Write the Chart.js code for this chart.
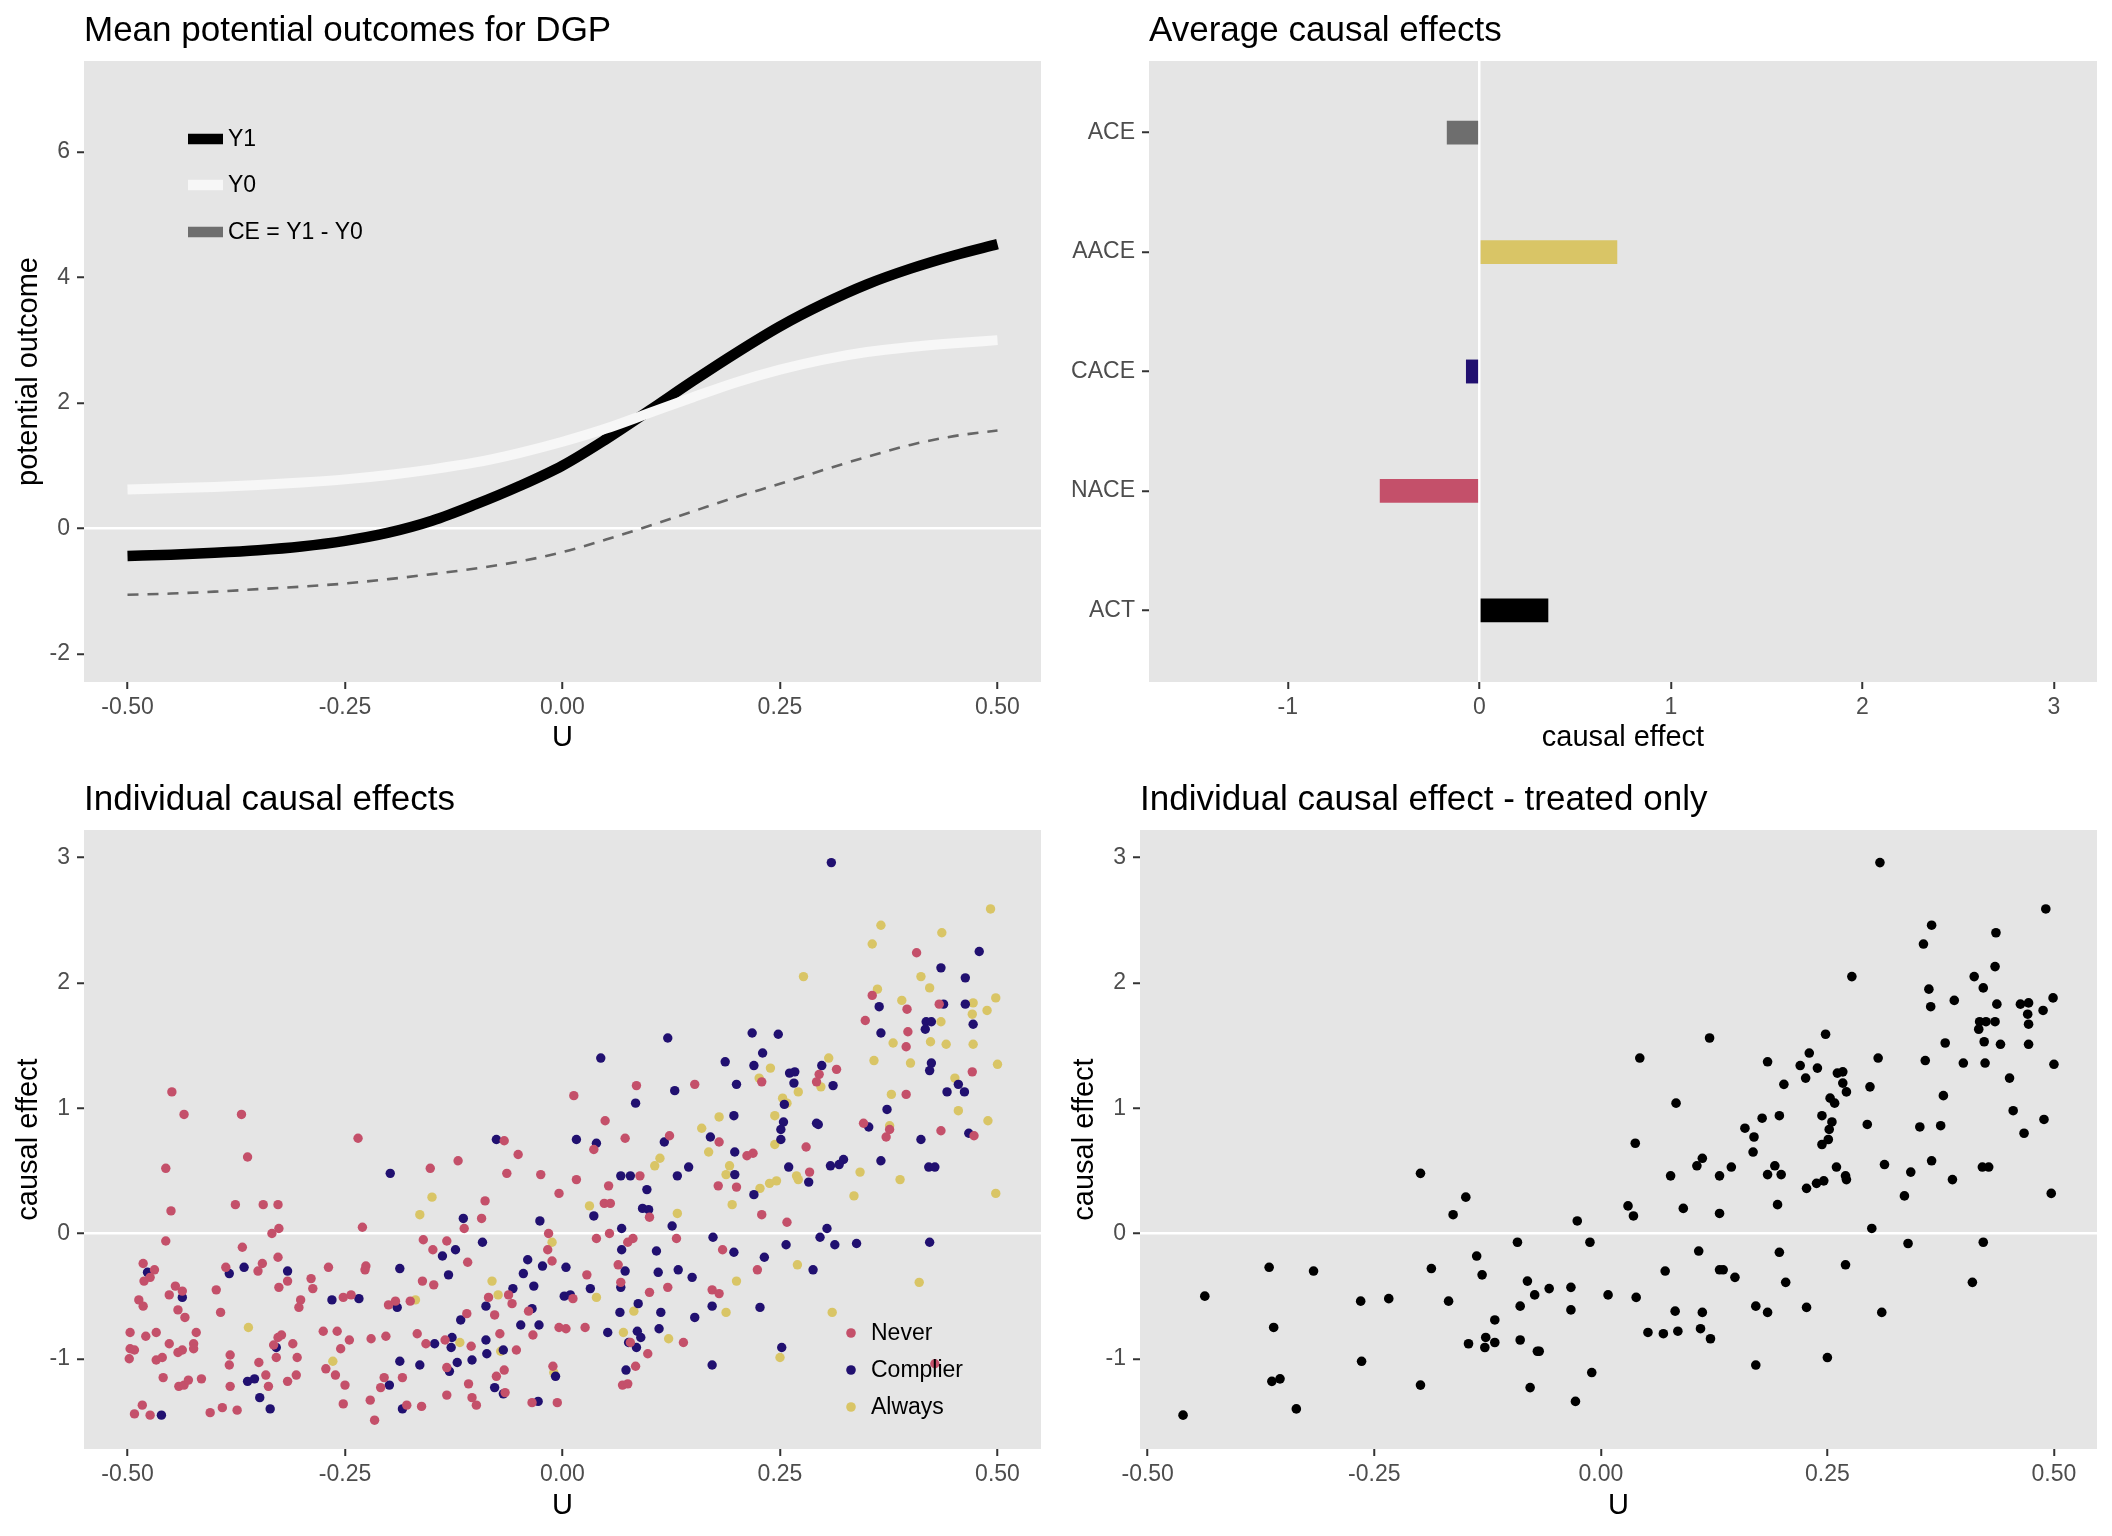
<!DOCTYPE html>
<html>
<head>
<meta charset="utf-8">
<script src="https://cdn.jsdelivr.net/npm/chart.js@4.4.1/dist/chart.umd.min.js"></script>
<style>
  html, body { margin: 0; padding: 0; background: #ffffff; }
  #page { position: relative; width: 2112px; height: 1536px; background: #ffffff; }
  .cell { position: absolute; width: 1056px; height: 768px; }
</style>
</head>
<body>
<div id="page">
  <div class="cell" style="left:0;top:0"><canvas id="dgp" width="1056" height="768"></canvas></div>
  <div class="cell" style="left:1056px;top:0"><canvas id="ace" width="1056" height="768"></canvas></div>
  <div class="cell" style="left:0;top:768px"><canvas id="ice" width="1056" height="768"></canvas></div>
  <div class="cell" style="left:1056px;top:768px"><canvas id="treated" width="1056" height="768"></canvas></div>
</div>
<script>
// ---- data ----
const uGrid = [-0.5, -0.45, -0.4, -0.35, -0.3, -0.25, -0.2, -0.15, -0.1, -0.05, 0, 0.05, 0.1, 0.15, 0.2, 0.25, 0.3, 0.35, 0.4, 0.45, 0.5];
const y1Mean = [-0.44, -0.42, -0.39, -0.35, -0.29, -0.20, -0.07, 0.12, 0.38, 0.67, 1.00, 1.42, 1.88, 2.35, 2.80, 3.22, 3.58, 3.89, 4.14, 4.35, 4.53];
const y0Mean = [0.62, 0.64, 0.66, 0.69, 0.73, 0.78, 0.85, 0.94, 1.05, 1.20, 1.38, 1.59, 1.84, 2.09, 2.33, 2.53, 2.69, 2.81, 2.89, 2.95, 3.00];
const ceMean = [-1.06, -1.04, -1.01, -0.97, -0.93, -0.88, -0.81, -0.73, -0.64, -0.53, -0.38, -0.18, 0.04, 0.27, 0.50, 0.71, 0.93, 1.14, 1.33, 1.47, 1.56];
const dgpLegend = ['Y1', 'Y0', 'CE = Y1 - Y0'];

const effectNames = ['ACE', 'AACE', 'CACE', 'NACE', 'ACT'];
const effectValues = [-0.17, 0.72, -0.07, -0.52, 0.36];

const typeNames = ['Never', 'Complier', 'Always'];
const neverPts = [
  [-0.449,1.13],[-0.435,0.95],[-0.369,0.95],[-0.362,0.61],[-0.456,0.52],[-0.235,0.76],[-0.45,0.18],[-0.376,0.23],[-0.344,0.23],[-0.327,0.23],
  [-0.23,0.05],[-0.326,0.04],[-0.334,0.0],[-0.456,-0.06],[-0.368,-0.11],[-0.327,-0.19],[-0.482,-0.24],[-0.469,-0.29],[-0.474,-0.35],[-0.481,-0.38],
  [-0.387,-0.27],[-0.35,-0.30],[-0.345,-0.24],[-0.316,-0.38],[-0.326,-0.43],[-0.289,-0.36],[-0.287,-0.44],[-0.269,-0.27],[-0.226,-0.26],[-0.227,-0.29],
  [-0.445,-0.42],[-0.437,-0.46],[-0.452,-0.49],[-0.398,-0.45],[-0.487,-0.53],[-0.482,-0.58],[-0.442,-0.61],[-0.434,-0.67],[-0.393,-0.63],[-0.301,-0.53],
  [-0.303,-0.59],[-0.252,-0.51],[-0.243,-0.49],[-0.2,-0.57],[-0.192,-0.54],[-0.175,-0.54],[-0.497,-0.79],[-0.479,-0.82],[-0.467,-0.79],[-0.421,-0.79],
  [-0.452,-0.88],[-0.424,-0.88],[-0.424,-0.92],[-0.442,-0.95],[-0.437,-0.93],[-0.497,-0.92],[-0.492,-0.93],[-0.498,-1.0],[-0.467,-1.01],[-0.46,-0.99],
  [-0.327,-0.83],[-0.323,-0.81],[-0.332,-0.89],[-0.31,-0.88],[-0.329,-0.99],[-0.305,-0.99],[-0.382,-0.97],[-0.383,-1.05],[-0.349,-1.03],[-0.275,-0.78],
  [-0.259,-0.78],[-0.245,-0.85],[-0.255,-0.92],[-0.22,-0.84],[-0.203,-0.82],[-0.272,-1.08],[-0.261,-1.13],[-0.25,-1.21],[-0.459,-1.15],[-0.441,-1.22],
  [-0.435,-1.21],[-0.43,-1.17],[-0.415,-1.16],[-0.382,-1.22],[-0.341,-1.13],[-0.338,-1.22],[-0.316,-1.18],[-0.306,-1.13],[-0.205,-1.15],[-0.209,-1.23],
  [-0.184,-1.15],[-0.483,-1.37],[-0.492,-1.44],[-0.474,-1.45],[-0.405,-1.43],[-0.391,-1.39],[-0.374,-1.41],[-0.252,-1.36],[-0.221,-1.33],[-0.216,-1.49],
  [-0.179,-1.37],
  [0.085,1.18],[0.152,1.19],[0.013,1.10],[0.049,0.90],[0.072,0.76],[-0.067,0.74],[-0.051,0.63],[0.036,0.67],[0.123,0.78],[0.18,0.73],
  [-0.12,0.58],[-0.152,0.52],[-0.064,0.48],[-0.025,0.47],[0.016,0.43],[0.089,0.46],[0.053,0.38],[0.179,0.38],[0.2,0.37],[-0.004,0.32],
  [-0.089,0.26],[0.048,0.24],[0.055,0.24],[-0.093,0.12],[-0.113,0.04],[0.1,0.13],[-0.016,0.0],[0.054,0.0],[0.131,-0.04],[-0.16,-0.05],
  [-0.133,-0.06],[0.039,-0.04],[0.075,-0.07],[0.081,-0.04],[0.184,-0.13],[-0.149,-0.13],[-0.017,-0.13],[-0.109,-0.23],[-0.012,-0.22],[0.064,-0.25],
  [0.028,-0.33],[-0.161,-0.38],[-0.148,-0.41],[0.067,-0.39],[0.121,-0.43],[0.1,-0.47],[0.172,-0.45],[0.18,-0.48],[-0.085,-0.51],[-0.062,-0.49],
  [-0.058,-0.56],[0.012,-0.52],[-0.11,-0.64],[-0.078,-0.65],[-0.039,-0.62],[-0.167,-0.80],[-0.157,-0.88],[-0.135,-0.85],[-0.105,-0.90],[-0.072,-0.80],
  [-0.053,-0.93],[-0.034,-0.81],[-0.004,-0.75],[0.004,-0.76],[0.026,-0.75],[0.078,-0.87],[0.098,-0.96],[0.139,-0.87],[-0.133,-1.07],[-0.067,-1.09],
  [-0.076,-1.14],[-0.011,-1.06],[0.084,-1.06],[-0.108,-1.20],[0.069,-1.21],[0.075,-1.20],[-0.133,-1.29],[-0.104,-1.31],[-0.099,-1.37],[-0.066,-1.27],
  [-0.035,-1.35],[-0.006,-1.35],[-0.162,-1.38],
  [0.407,2.24],[0.356,1.90],[0.348,1.70],[0.396,1.79],[0.433,1.83],[0.397,1.61],[0.395,1.49],[0.315,1.31],[0.295,1.27],[0.292,1.21],
  [0.229,1.21],[0.471,1.29],[0.395,1.11],[0.346,0.88],[0.376,0.83],[0.372,0.77],[0.435,0.82],[0.473,0.78],[0.28,0.69],[0.212,0.62],
  [0.219,0.64],[0.284,0.49],[0.229,0.15],[0.258,0.09],[0.224,-0.29],[0.428,-1.04]
];
const complierPts = [
  [-0.198,0.48],[-0.477,-0.31],[-0.437,-0.51],[-0.383,-0.32],[-0.366,-0.27],[-0.316,-0.30],[-0.265,-0.53],[-0.234,-0.52],[-0.187,-0.28],[-0.19,-0.59],
  [-0.329,-0.91],[-0.362,-1.18],[-0.354,-1.16],[-0.348,-1.31],[-0.336,-1.40],[-0.461,-1.45],[-0.187,-1.02],[-0.199,-1.21],[-0.184,-1.40],
  [0.121,1.56],[0.044,1.40],[0.187,1.37],[0.2,1.19],[0.129,1.14],[0.084,1.04],[0.197,0.94],[0.016,0.75],[-0.076,0.75],[0.039,0.72],
  [0.117,0.73],[0.17,0.77],[0.198,0.65],[0.067,0.46],[0.078,0.46],[0.132,0.46],[0.145,0.53],[0.198,0.47],[0.097,0.35],[0.092,0.20],
  [0.099,0.19],[0.036,0.14],[-0.114,0.12],[-0.026,0.10],[0.126,0.06],[0.068,0.04],[0.173,-0.03],[-0.092,-0.07],[-0.123,-0.13],[-0.138,-0.18],
  [0.068,-0.13],[0.108,-0.14],[0.197,-0.15],[-0.04,-0.21],[-0.023,-0.26],[0.004,-0.27],[-0.045,-0.32],[0.072,-0.30],[0.11,-0.31],[0.133,-0.29],
  [0.149,-0.35],[-0.131,-0.33],[-0.057,-0.44],[-0.033,-0.42],[0.032,-0.44],[0.002,-0.50],[0.009,-0.49],[0.067,-0.43],[-0.088,-0.58],[-0.035,-0.60],
  [0.087,-0.56],[0.066,-0.63],[0.113,-0.63],[0.172,-0.58],[-0.117,-0.69],[-0.048,-0.73],[-0.027,-0.73],[0.052,-0.79],[0.086,-0.78],[0.111,-0.76],
  [0.152,-0.67],[-0.127,-0.83],[-0.147,-0.88],[-0.128,-0.91],[-0.088,-0.85],[0.09,-0.83],[0.076,-0.87],[0.085,-0.91],[-0.068,-0.93],[-0.121,-1.03],
  [-0.104,-1.01],[-0.087,-0.96],[-0.164,-1.05],[-0.13,-1.10],[-0.008,-1.14],[0.073,-1.09],[0.172,-1.05],[-0.078,-1.23],[-0.068,-1.28],[-0.028,-1.34],
  [0.309,2.96],[0.479,2.25],[0.435,2.12],[0.463,2.04],[0.364,1.81],[0.438,1.83],[0.463,1.83],[0.418,1.69],[0.424,1.69],[0.417,1.63],
  [0.472,1.67],[0.366,1.60],[0.218,1.60],[0.248,1.59],[0.23,1.44],[0.22,1.34],[0.298,1.34],[0.261,1.28],[0.267,1.29],[0.266,1.20],
  [0.311,1.18],[0.424,1.36],[0.422,1.30],[0.455,1.19],[0.442,1.13],[0.462,1.13],[0.255,1.03],[0.373,0.99],[0.254,0.89],[0.251,0.83],
  [0.251,0.75],[0.292,0.88],[0.294,0.87],[0.352,0.85],[0.412,0.75],[0.467,0.80],[0.323,0.59],[0.318,0.55],[0.308,0.54],[0.366,0.58],
  [0.421,0.53],[0.428,0.53],[0.26,0.53],[0.283,0.41],[0.22,0.31],[0.304,0.04],[0.296,-0.03],[0.257,-0.09],[0.313,-0.09],[0.338,-0.08],
  [0.422,-0.07],[0.232,-0.19],[0.288,-0.29],[0.227,-0.59],[0.252,-0.91]
];
const alwaysPts = [
  [-0.361,-0.75],[-0.264,-1.02],
  [0.18,0.93],[0.16,0.84],[0.112,0.60],[0.106,0.54],[0.168,0.65],[0.192,0.54],[0.188,0.47],[-0.15,0.29],
  [-0.164,0.15],[0.031,0.22],[0.132,0.16],[0.195,0.23],[-0.012,-0.07],[-0.081,-0.38],[-0.074,-0.49],[0.039,-0.51],[-0.169,-0.53],[0.082,-0.62],
  [0.188,-0.63],[0.2,-0.38],[-0.118,-0.87],[0.07,-0.79],[0.122,-0.84],[-0.071,-0.94],[-0.01,-1.11],
  [0.492,2.59],[0.366,2.46],[0.436,2.40],[0.356,2.31],[0.277,2.05],[0.412,2.05],[0.422,1.96],[0.362,1.95],[0.39,1.86],[0.498,1.88],
  [0.472,1.84],[0.471,1.75],[0.488,1.78],[0.435,1.69],[0.38,1.52],[0.423,1.53],[0.441,1.51],[0.472,1.51],[0.358,1.38],[0.4,1.36],
  [0.5,1.35],[0.306,1.40],[0.239,1.32],[0.226,1.24],[0.451,1.24],[0.297,1.17],[0.271,1.13],[0.253,1.08],[0.258,1.04],[0.378,1.11],
  [0.455,0.98],[0.244,0.94],[0.489,0.90],[0.376,0.86],[0.244,0.71],[0.342,0.49],[0.388,0.43],[0.269,0.46],[0.271,0.43],[0.238,0.40],
  [0.246,0.42],[0.227,0.36],[0.335,0.30],[0.498,0.32],[0.27,-0.25],[0.41,-0.39],[0.31,-0.63],[0.25,-0.99]
];
const treatedPts = [
  [-0.199,0.48],[-0.366,-0.27],[-0.317,-0.30],[-0.187,-0.28],[-0.437,-0.50],[-0.265,-0.54],[-0.234,-0.52],[-0.361,-0.75],[-0.264,-1.02],[-0.363,-1.18],
  [-0.354,-1.16],[-0.199,-1.21],[-0.336,-1.40],[-0.461,-1.45],
  [0.120,1.56],[0.043,1.40],[0.184,1.37],[0.083,1.04],[0.178,0.92],[0.159,0.84],[0.169,0.77],[0.168,0.65],[0.038,0.72],[0.112,0.60],
  [0.106,0.54],[0.144,0.53],[0.077,0.46],[0.131,0.46],[0.184,0.47],[-0.149,0.29],[-0.163,0.15],[-0.026,0.10],[0.03,0.22],[0.036,0.14],
  [0.091,0.20],[0.131,0.16],[-0.092,-0.07],[-0.012,-0.07],[-0.137,-0.18],[0.108,-0.14],[-0.131,-0.33],[0.071,-0.30],[0.131,-0.29],[0.135,-0.29],
  [0.148,-0.35],[-0.081,-0.38],[-0.057,-0.44],[-0.033,-0.43],[-0.073,-0.49],[0.008,-0.49],[0.039,-0.51],[-0.168,-0.54],[-0.089,-0.58],[-0.033,-0.61],
  [0.082,-0.62],[0.112,-0.63],[0.171,-0.58],[0.184,-0.63],[-0.117,-0.69],[-0.127,-0.83],[-0.146,-0.88],[-0.128,-0.91],[-0.117,-0.87],[-0.089,-0.85],
  [-0.07,-0.94],[-0.068,-0.94],[0.052,-0.79],[0.069,-0.80],[0.085,-0.78],[0.11,-0.76],[0.121,-0.84],[-0.01,-1.11],[0.171,-1.05],[-0.078,-1.23],
  [-0.028,-1.34],
  [0.308,2.96],[0.491,2.59],[0.365,2.46],[0.436,2.40],[0.356,2.31],[0.435,2.13],[0.277,2.05],[0.412,2.05],[0.422,1.96],[0.362,1.95],
  [0.39,1.86],[0.499,1.88],[0.437,1.83],[0.463,1.83],[0.472,1.84],[0.364,1.81],[0.488,1.78],[0.471,1.75],[0.418,1.69],[0.425,1.69],
  [0.435,1.69],[0.417,1.63],[0.472,1.67],[0.248,1.59],[0.38,1.52],[0.423,1.53],[0.441,1.51],[0.472,1.51],[0.23,1.44],[0.306,1.40],
  [0.22,1.34],[0.239,1.32],[0.358,1.38],[0.4,1.36],[0.424,1.36],[0.5,1.35],[0.261,1.28],[0.267,1.29],[0.226,1.24],[0.451,1.24],
  [0.202,1.19],[0.267,1.20],[0.297,1.17],[0.271,1.13],[0.253,1.08],[0.258,1.04],[0.378,1.10],[0.197,0.94],[0.244,0.94],[0.255,0.89],
  [0.294,0.87],[0.455,0.98],[0.489,0.91],[0.252,0.83],[0.352,0.85],[0.375,0.86],[0.467,0.80],[0.251,0.75],[0.244,0.71],[0.192,0.54],
  [0.199,0.47],[0.26,0.53],[0.27,0.46],[0.271,0.43],[0.313,0.55],[0.342,0.49],[0.365,0.58],[0.388,0.43],[0.421,0.53],[0.428,0.53],
  [0.227,0.36],[0.238,0.40],[0.246,0.42],[0.195,0.23],[0.335,0.30],[0.497,0.32],[0.299,0.04],[0.197,-0.15],[0.339,-0.08],[0.422,-0.07],
  [0.27,-0.25],[0.204,-0.39],[0.41,-0.39],[0.227,-0.59],[0.31,-0.63],[0.25,-0.99]
];

const uTicks = [-0.5, -0.25, 0, 0.25, 0.5];
const uTickLabels = ['-0.50', '-0.25', '0.00', '0.25', '0.50'];
const outcomeTicks = [-2, 0, 2, 4, 6];
const effectTicks = [-1, 0, 1, 2, 3];
const ceTicks = [-1, 0, 1, 2, 3];

// ---- styling ----
const FONT = "'Liberation Sans', Arial, Helvetica, sans-serif";
const PANEL_BG = '#e5e5e5';
const RED = '#c4506a', NAVY = '#211070', GOLD = '#d9c566', GREY = '#6e6e6e';
const barColors = [GREY, GOLD, NAVY, RED, '#000000'];

const panelText = {
    id: 'panelText',
    beforeDraw(chart) {
        const a = chart.chartArea, ctx = chart.ctx;
        ctx.save();
        ctx.fillStyle = PANEL_BG;
        ctx.fillRect(a.left, a.top, a.right - a.left, a.bottom - a.top);
        ctx.restore();
    },
    afterDraw(chart, args, opts) {
        const a = chart.chartArea, ctx = chart.ctx;
        ctx.save();
        ctx.fillStyle = '#000000';
        ctx.font = '35px ' + FONT;
        ctx.textAlign = 'left';
        ctx.textBaseline = 'alphabetic';
        ctx.fillText(opts.title, a.left, opts.titleY);
        // legend drawn inside the panel, like the ggplot one
        ctx.font = '23px ' + FONT;
        ctx.textBaseline = 'middle';
        (opts.legend || []).forEach(it => {
            const x = a.left + it.x, y = a.top + it.y;
            if (it.kind === 'line') {
                ctx.strokeStyle = it.color;
                ctx.lineWidth = it.lw;
                ctx.beginPath();
                ctx.moveTo(x, y);
                ctx.lineTo(x + 35, y);
                ctx.stroke();
                ctx.fillStyle = '#000000';
                ctx.fillText(it.text, x + 40, y + 1);
            } else {
                ctx.fillStyle = it.color;
                ctx.beginPath();
                ctx.arc(x, y, 4.8, 0, Math.PI * 2);
                ctx.fill();
                ctx.fillStyle = '#000000';
                ctx.fillText(it.text, x + 20, y + 1);
            }
        });
        ctx.restore();
    }
};

function axis(o) {
    return {
        type: 'linear',
        position: o.position,
        min: o.min,
        max: o.max,
        reverse: !!o.reverse,
        offset: false,
        z: o.z || 0,
        afterBuildTicks: s => { s.ticks = o.ticks.map(v => ({ value: v })); },
        afterFit: s => {
            if (o.position === 'left') s.width = o.size; else s.height = o.size;
        },
        ticks: {
            autoSkip: false,
            maxRotation: 0,
            padding: o.position === 'left' ? 7 : 5,
            color: '#4d4d4d',
            font: { family: FONT, size: 23 },
            callback: v => o.labels[o.ticks.indexOf(v)]
        },
        grid: {
            offset: false,
            color: c => (o.zeroLine && c.tick && c.tick.value === 0) ? '#ffffff' : 'rgba(0,0,0,0)',
            lineWidth: 2.5,
            drawTicks: true,
            tickLength: 7,
            tickColor: '#333333',
            tickWidth: 2
        },
        border: { display: false },
        title: o.title ? {
            display: true,
            text: o.title,
            color: '#000000',
            font: { family: FONT, size: 29 },
            padding: o.position === 'left' ? { top: 8, bottom: 0 } : { top: 0, bottom: 7 }
        } : { display: false }
    };
}

function baseOptions(top, left) {
    return {
        responsive: false,
        animation: false,
        events: [],
        layout: { padding: { top: top, left: left, right: 15, bottom: 6 } },
        plugins: { legend: { display: false }, tooltip: { enabled: false } }
    };
}

const toXY = pts => pts.map(p => ({ x: p[0], y: p[1] }));

// ---- panel 1: mean potential outcomes ----
const dgpOpts = baseOptions(61, 4);
dgpOpts.scales = {
    x: axis({ position: 'bottom', min: -0.55, max: 0.55, ticks: uTicks, labels: uTickLabels, size: 80, title: 'U' }),
    y: axis({ position: 'left', min: -2.45, max: 7.45, ticks: outcomeTicks, labels: outcomeTicks.map(String), size: 80, title: 'potential outcome', zeroLine: true })
};
dgpOpts.plugins.panelText = {
    title: 'Mean potential outcomes for DGP', titleY: 41,
    legend: [
        { kind: 'line', text: dgpLegend[0], color: '#000000', lw: 10.5, x: 104, y: 78 },
        { kind: 'line', text: dgpLegend[1], color: '#f7f7f7', lw: 10.5, x: 104, y: 124 },
        { kind: 'line', text: dgpLegend[2], color: GREY, lw: 10.5, x: 104, y: 171 }
    ]
};
new Chart(document.getElementById('dgp'), {
    type: 'line',
    data: {
        datasets: [
            { label: dgpLegend[1], data: uGrid.map((u, i) => ({ x: u, y: y0Mean[i] })), borderColor: '#f7f7f7', borderWidth: 10, order: 0 },
            { label: dgpLegend[0], data: uGrid.map((u, i) => ({ x: u, y: y1Mean[i] })), borderColor: '#000000', borderWidth: 10.5, order: 1 },
            { label: dgpLegend[2], data: uGrid.map((u, i) => ({ x: u, y: ceMean[i] })), borderColor: '#666666', borderWidth: 2.6, borderDash: [11, 9], order: 2 }
        ].map(d => Object.assign(d, { pointRadius: 0, fill: false, cubicInterpolationMode: 'monotone', borderCapStyle: 'butt' }))
    },
    options: dgpOpts,
    plugins: [panelText]
});

// ---- panel 2: average causal effects ----
const aceOpts = baseOptions(61, 4);
aceOpts.indexAxis = 'y';
aceOpts.scales = {
    x: axis({ position: 'bottom', min: -1.725, max: 3.225, ticks: effectTicks, labels: effectTicks.map(String), size: 80, title: 'causal effect', zeroLine: true, z: 1 }),
    y: axis({ position: 'left', min: 0.4, max: 5.6, reverse: true, ticks: [1, 2, 3, 4, 5], labels: effectNames, size: 89 })
};
aceOpts.plugins.panelText = { title: 'Average causal effects', titleY: 41 };
new Chart(document.getElementById('ace'), {
    type: 'bar',
    data: {
        datasets: [{
            label: 'causal effect',
            data: effectValues.map((v, i) => ({ x: v, y: i + 1 })),
            backgroundColor: barColors,
            borderWidth: 0,
            barPercentage: 0.2,
            categoryPercentage: 1
        }]
    },
    options: aceOpts,
    plugins: [panelText]
});

// ---- panel 3: individual causal effects ----
const iceOpts = baseOptions(62, 4);
iceOpts.scales = {
    x: axis({ position: 'bottom', min: -0.55, max: 0.55, ticks: uTicks, labels: uTickLabels, size: 81, title: 'U' }),
    y: axis({ position: 'left', min: -1.72, max: 3.22, ticks: ceTicks, labels: ceTicks.map(String), size: 80, title: 'causal effect', zeroLine: true })
};
iceOpts.plugins.panelText = {
    title: 'Individual causal effects', titleY: 42,
    legend: [
        { kind: 'point', text: typeNames[0], color: RED, x: 767, y: 503 },
        { kind: 'point', text: typeNames[1], color: NAVY, x: 767, y: 540 },
        { kind: 'point', text: typeNames[2], color: GOLD, x: 767, y: 577 }
    ]
};
new Chart(document.getElementById('ice'), {
    type: 'scatter',
    data: {
        datasets: [
            { label: typeNames[0], data: toXY(neverPts), backgroundColor: RED },
            { label: typeNames[1], data: toXY(complierPts), backgroundColor: NAVY },
            { label: typeNames[2], data: toXY(alwaysPts), backgroundColor: GOLD }
        ].map(d => Object.assign(d, { pointRadius: 4.7, borderWidth: 0 }))
    },
    options: iceOpts,
    plugins: [panelText]
});

// ---- panel 4: treated only ----
const trOpts = baseOptions(62, 4);
trOpts.scales = {
    x: axis({ position: 'bottom', min: -0.5085, max: 0.5475, ticks: uTicks, labels: uTickLabels, size: 81, title: 'U' }),
    y: axis({ position: 'left', min: -1.72, max: 3.22, ticks: ceTicks, labels: ceTicks.map(String), size: 80, title: 'causal effect', zeroLine: true })
};
trOpts.plugins.panelText = { title: 'Individual causal effect - treated only', titleY: 42 };
new Chart(document.getElementById('treated'), {
    type: 'scatter',
    data: {
        datasets: [{ label: 'treated', data: toXY(treatedPts), backgroundColor: '#000000', pointRadius: 4.8, borderWidth: 0 }]
    },
    options: trOpts,
    plugins: [panelText]
});
</script>
</body>
</html>
